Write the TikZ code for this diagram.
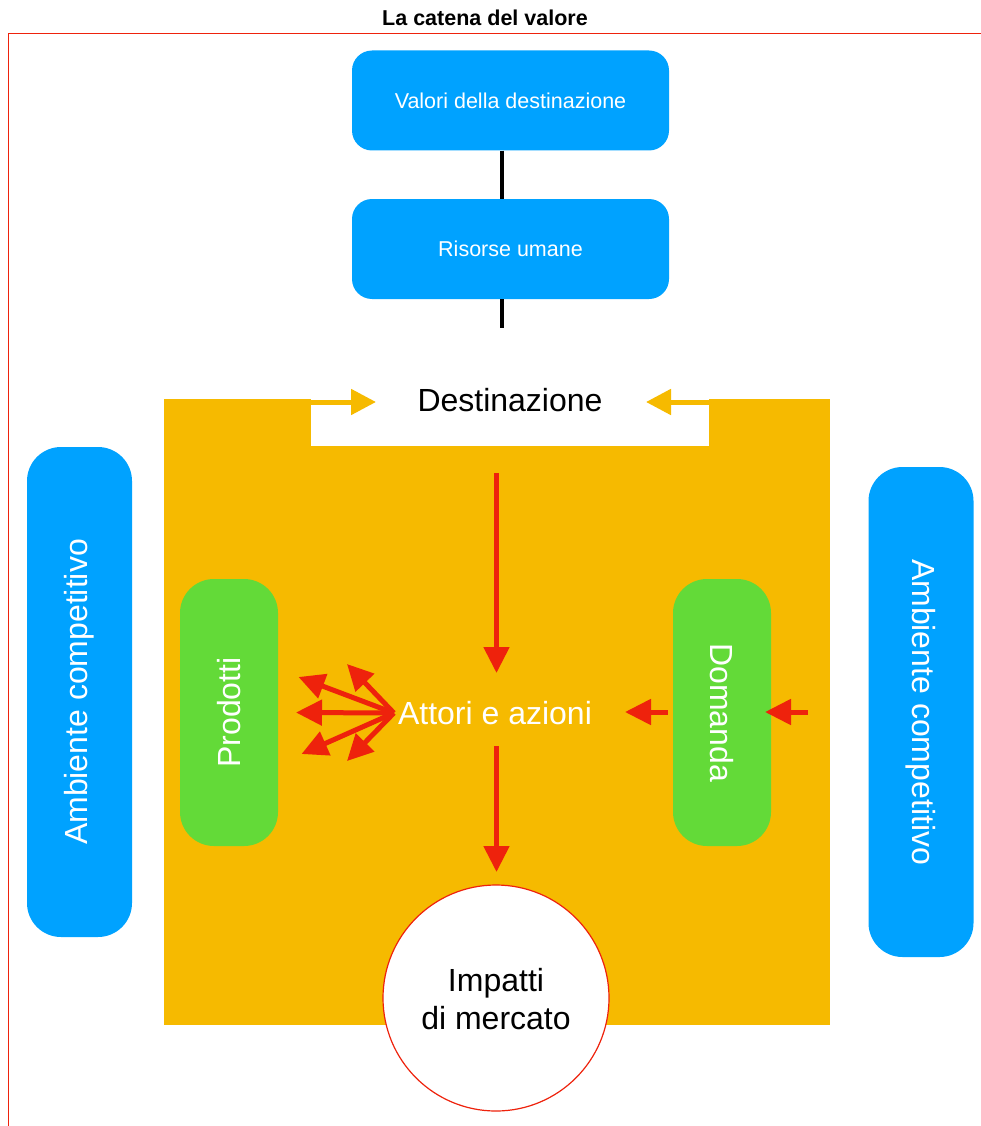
\documentclass[tikz,border=0pt]{standalone}
\usepackage{fontspec}
\setmainfont{Liberation Sans}
\usetikzlibrary{arrows.meta}
\definecolor{kblue}{HTML}{00A2FF}
\definecolor{kgreen}{HTML}{63DA38}
\definecolor{korange}{HTML}{F6BA00}
\definecolor{kred}{HTML}{EE220C}
\begin{document}
\begin{tikzpicture}[x=1pt,y=-1pt,
  topbox/.style={fill=kblue, rounded corners=20pt, minimum width=317pt, minimum height=100pt, text=white, font=\fontsize{21.5}{25}\selectfont, inner sep=0pt},
  sidebox/.style={fill=kblue, rounded corners=34pt, minimum width=490pt, minimum height=105pt, text=white, font=\fontsize{32}{38}\selectfont, inner sep=0pt},
  greenbox/.style={fill=kgreen, rounded corners=34pt, minimum width=267pt, minimum height=98pt, text=white, font=\fontsize{32}{38}\selectfont, inner sep=0pt},
  bigtext/.style={font=\fontsize{32}{38}\selectfont, inner sep=0pt},
  rarrow/.style={draw=kred, line width=5pt, -{Triangle[length=26pt,width=25pt]}},
  oarrow/.style={draw=korange, line width=5pt, -{Triangle[length=25pt,width=25pt]}},
  link/.style={draw=black, line width=4.5pt}
]
\useasboundingbox (0,0) rectangle (981,1126);
% title and frame
\node[font=\bfseries\fontsize{21.5}{25}\selectfont, inner sep=0pt] (title) at (485,18) {La catena del valore};
\draw[kred, line width=1pt] (981,34) -- (8,34) -- (8,1126);

% top boxes
\node[topbox] (valori) at (510.5,100.5) {Valori della destinazione};
\node[topbox] (risorse) at (510.5,249) {Risorse umane};
\coordinate (linkend) at (502,328);
\draw[link] ([xshift=-8.5pt]valori.south) -- ([xshift=-8.5pt]risorse.north);
\draw[link] ([xshift=-8.5pt]risorse.south) -- (linkend);

% orange area with white notch
\node[fill=korange, minimum width=666pt, minimum height=626pt, inner sep=0pt] (area) at (497,712) {};
\fill[white] (311,390) rectangle (709,446);
\node[bigtext, text=black] (dest) at (510,400) {Destinazione};
\coordinate (ol) at (311,402);
\coordinate (olt) at (376,402);
\coordinate (or) at (709,402);
\coordinate (ort) at (646,402);
\draw[oarrow] (ol) -- (olt);
\draw[oarrow] (or) -- (ort);

% side boxes
\node[sidebox, rotate=90] (ambL) at (79.5,692) {Ambiente competitivo};
\node[sidebox, rotate=-90] (ambR) at (921,712) {Ambiente competitivo};
\node[greenbox, rotate=90] (prodotti) at (229,712.5) {Prodotti};
\node[greenbox, rotate=-90] (domanda) at (722,712.5) {Domanda};

% central
\node[bigtext, text=white] (attori) at (495,713) {Attori e azioni};
\node[circle, draw=kred, line width=1.2pt, fill=white, minimum size=226pt, inner sep=0pt] (impatti) at (496,998) {};
\node[bigtext, align=center, text=black] (impattitext) at (496,999) {Impatti\\di mercato};

% vertical red arrows
\coordinate (d1s) at (496.5,473);
\coordinate (d1e) at (496.5,673);
\coordinate (d2s) at (496.5,746);
\coordinate (d2e) at (496.5,872);
\draw[rarrow] (d1s) -- (d1e);
\draw[rarrow] (d2s) -- (d2e);

% fan towards Prodotti
\coordinate (fan) at ([xshift=-4pt]attori.west);
\coordinate (f1) at (296,712.5);
\coordinate (f2) at (298.5,677);
\coordinate (f3) at (347,664);
\coordinate (f4) at (301.5,754);
\coordinate (f5) at (347,761);
\foreach \t in {f1,f2,f3,f4,f5} \draw[rarrow] (fan) -- (\t);

% arrows from Domanda
\coordinate (da1s) at (667.5,712);
\coordinate (da1e) at (625,712);
\coordinate (da2s) at (808,712);
\coordinate (da2e) at (765,712);
\draw[rarrow] (da1s) -- (da1e);
\draw[rarrow] (da2s) -- (da2e);
\end{tikzpicture}
\end{document}
